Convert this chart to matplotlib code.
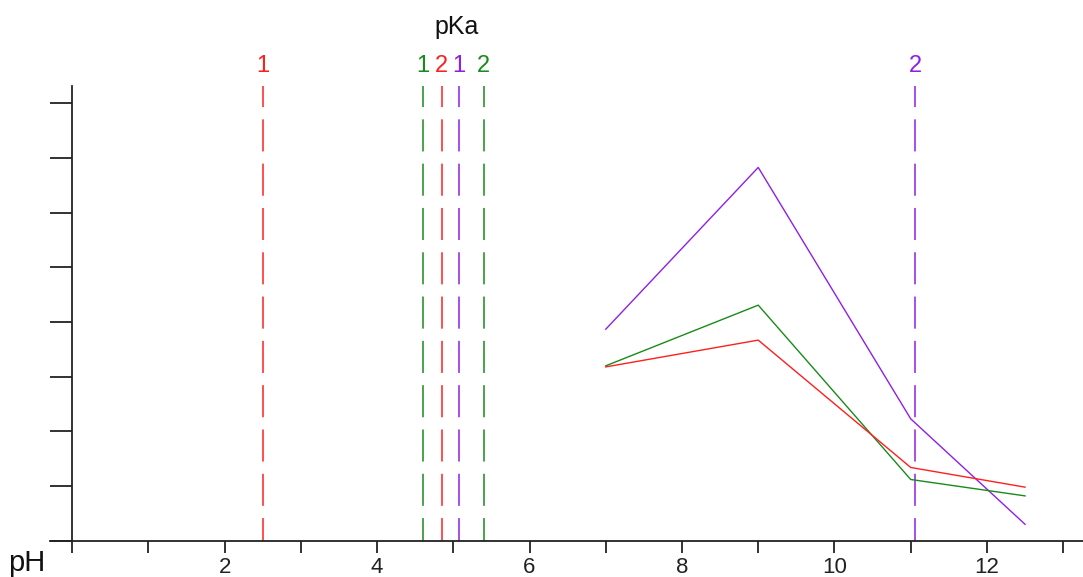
import matplotlib
matplotlib.use("Agg")
import matplotlib.pyplot as plt
import matplotlib.transforms as mtransforms

plt.rcParams['font.family'] = ['Liberation Sans', 'DejaVu Sans']

# pH values where the curves were measured
ph = [7, 9, 11, 12.5]
red_vals = [3.18, 3.67, 1.34, 0.98]
green_vals = [3.20, 4.31, 1.12, 0.82]
purple_vals = [3.87, 6.83, 2.23, 0.30]

# pKa values for each compound (label is the index 1 / 2)
pka_red = [2.5, 4.85]
pka_green = [4.6, 5.4]
pka_purple = [5.07, 11.06]

x_ticks = list(range(0, 14))
x_ticklabels = ['' if t % 2 or t == 0 else str(t) for t in x_ticks]
y_ticks = list(range(0, 9))

RED = '#ff1f1f'
GREEN = '#1a8a1a'
PURPLE = '#8f1fe6'
AXIS = '#222222'

fig = plt.figure(figsize=(10.83, 5.77), dpi=100)
ax = fig.add_axes([50 / 1083, 36.3 / 577, 1 - 50 / 1083, (540.7 - 86) / 577])

ax.set_xlim(-0.29, 13.26)
ax.set_ylim(0, 8.32)

# vertical pKa markers with their index above the axes
trans = mtransforms.blended_transform_factory(ax.transData, ax.transAxes)
for color, values in [(RED, pka_red), (GREEN, pka_green), (PURPLE, pka_purple)]:
    for i, v in enumerate(values):
        ax.axvline(v, color=color, lw=1.1, linestyle=(6, (21, 8)),
                   dash_capstyle='butt')
        ax.text(v, 1.044, str(i + 1), color=color, transform=trans,
                ha='center', va='center', fontsize=17, clip_on=False)

ax.text(5.05, 1.13, 'pKa', transform=trans, ha='center', va='center',
        fontsize=18, color='#111111', clip_on=False)

ax.plot(ph, purple_vals, color=PURPLE, lw=1.0)
ax.plot(ph, green_vals, color=GREEN, lw=1.0)
ax.plot(ph, red_vals, color=RED, lw=1.0)

# axes styling: left spine sits on pH = 0
for s in ['top', 'right']:
    ax.spines[s].set_visible(False)
ax.spines['left'].set_position(('data', 0))
for s in ['left', 'bottom']:
    ax.spines[s].set_color(AXIS)
    ax.spines[s].set_linewidth(1.3)

ax.set_xticks(x_ticks)
ax.set_xticklabels(x_ticklabels)
ax.set_yticks(y_ticks)
ax.set_yticklabels([])
ax.tick_params(axis='x', direction='out', length=8.6, width=1.3, color=AXIS,
               labelsize=16, pad=3, labelcolor='#222222')
ax.tick_params(axis='y', direction='out', length=15.8, width=1.3, color=AXIS)

fig.text(27 / 1083, 1 - 563 / 577, 'pH', ha='center', va='center',
         fontsize=21, color='#111111')

fig.savefig('out.png', dpi=100)
